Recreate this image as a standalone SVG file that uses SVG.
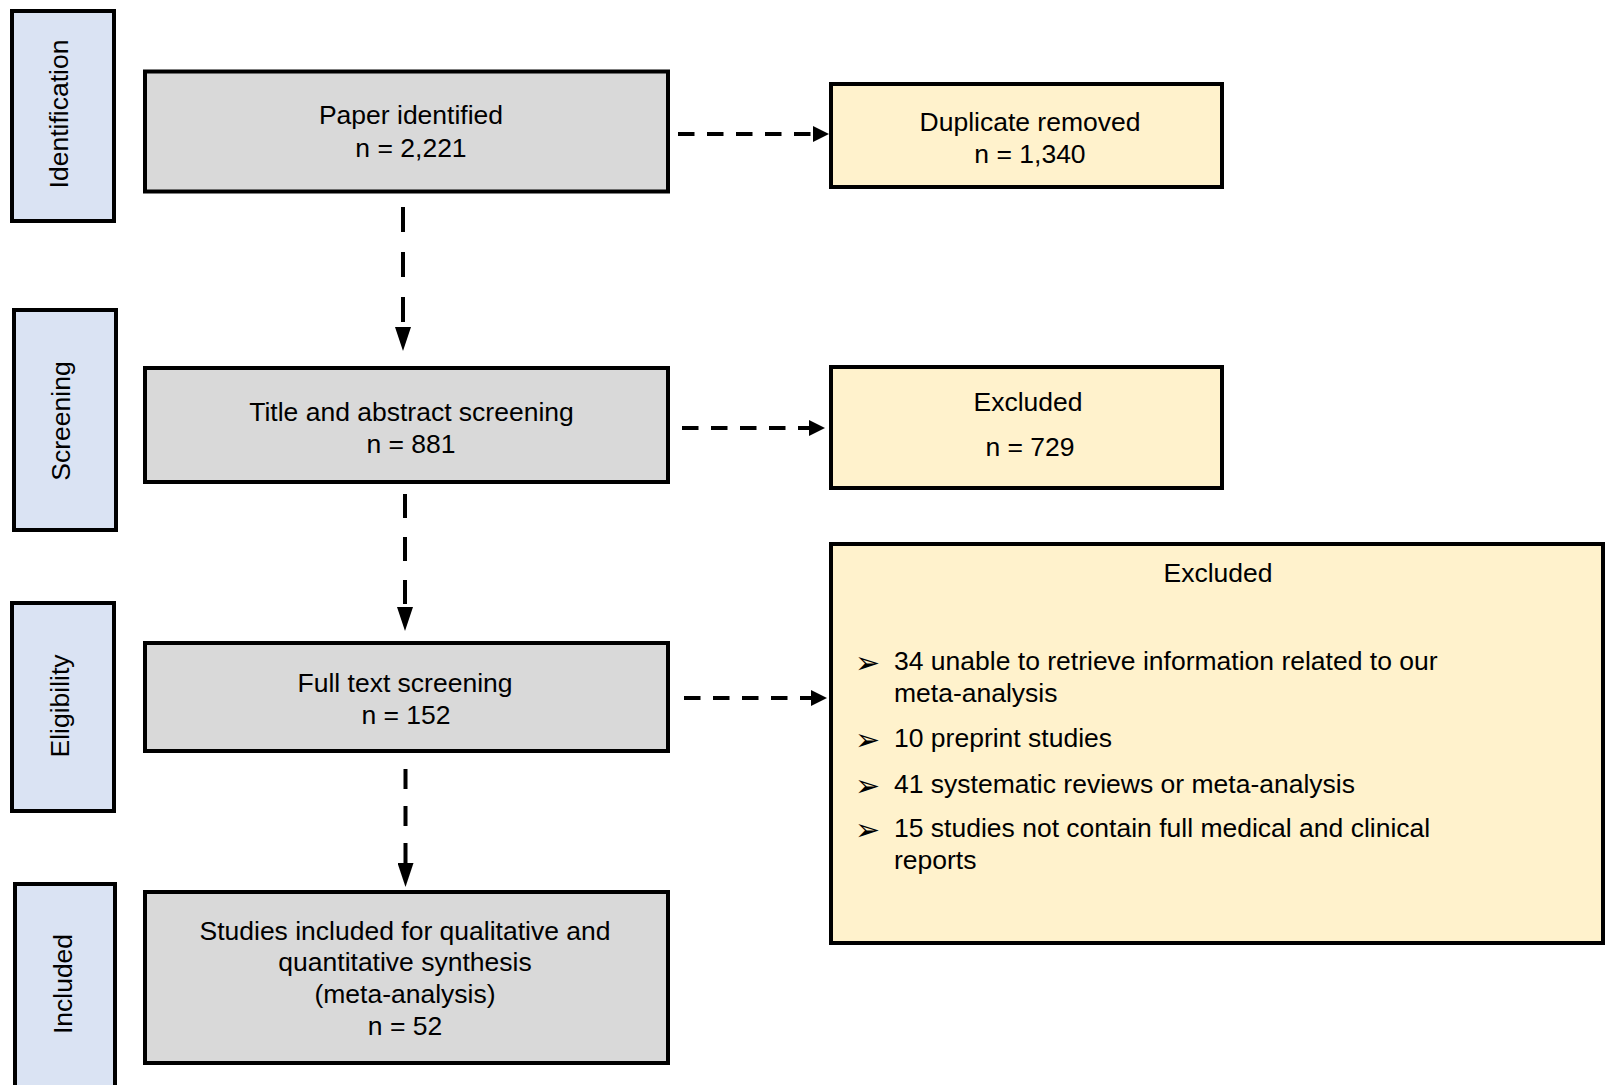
<svg xmlns="http://www.w3.org/2000/svg" width="1605" height="1085" viewBox="0 0 1605 1085">
<style>
.side{fill:#dae3f3;stroke:#000;stroke-width:4}
.main{fill:#d9d9d9;stroke:#000;stroke-width:4}
.excl{fill:#fff2cc;stroke:#000;stroke-width:4}
text{font-family:"Liberation Sans",Arial,sans-serif;font-size:26.5px;fill:#000}
.c{text-anchor:middle}
.bul{font-family:"DejaVu Sans",sans-serif;font-size:30px}
.v{fill:none;stroke:#000;stroke-width:4;marker-end:url(#ah)}
.h{fill:none;stroke:#000;stroke-width:4;stroke-dasharray:16.5 12.5;marker-end:url(#ahh)}
</style>
<defs>
<marker id="ah" markerUnits="userSpaceOnUse" markerWidth="24" markerHeight="16" viewBox="0 0 24 16" refX="0" refY="8" orient="auto"><path d="M0,0 L24,8 L0,16 z" fill="#000"/></marker>
<marker id="ahh" markerUnits="userSpaceOnUse" markerWidth="16" markerHeight="16" viewBox="0 0 16 16" refX="0" refY="8" orient="auto"><path d="M0,0 L16,8 L0,16 z" fill="#000"/></marker>
</defs>
<rect width="1605" height="1085" fill="#fff"/>
<g id="side-identification"><rect class="side" x="12" y="11" width="102" height="210"/><text class="c" transform="translate(68,114) rotate(-90)">Identification</text></g>
<g id="side-screening"><rect class="side" x="14" y="310" width="102" height="220"/><text class="c" transform="translate(70,421) rotate(-90)">Screening</text></g>
<g id="side-eligibility"><rect class="side" x="12" y="603" width="102" height="208"/><text class="c" transform="translate(69,706) rotate(-90)">Eligibility</text></g>
<g id="side-included"><rect class="side" x="15" y="884" width="100" height="220"/><text class="c" transform="translate(72,984) rotate(-90)">Included</text></g>
<g id="paper-identified"><rect class="main" x="145" y="71.5" width="523" height="120"/><text class="c" x="411" y="124">Paper identified</text><text class="c" x="411" y="157">n = 2,221</text></g>
<g id="title-abstract"><rect class="main" x="145" y="368" width="523" height="114"/><text class="c" x="411.5" y="421">Title and abstract screening</text><text class="c" x="411" y="453">n = 881</text></g>
<g id="full-text"><rect class="main" x="145" y="643" width="523" height="108"/><text class="c" x="405" y="692">Full text screening</text><text class="c" x="406" y="724">n = 152</text></g>
<g id="studies-included"><rect class="main" x="145" y="892" width="523" height="171"/><text class="c" x="405" y="940">Studies included for qualitative and</text><text class="c" x="405" y="971">quantitative synthesis</text><text class="c" x="405" y="1003">(meta-analysis)</text><text class="c" x="405" y="1035">n = 52</text></g>
<g id="duplicate-removed"><rect class="excl" x="831" y="84" width="391" height="103"/><text class="c" x="1030" y="131">Duplicate removed</text><text class="c" x="1030" y="163">n = 1,340</text></g>
<g id="excluded-729"><rect class="excl" x="831" y="367" width="391" height="121"/><text class="c" x="1028" y="411">Excluded</text><text class="c" x="1030" y="456">n = 729</text></g>
<g id="excluded-fulltext"><rect class="excl" x="831" y="544" width="772" height="399"/><text class="c" x="1218" y="582">Excluded</text>
<text class="bul" x="855" y="673">➢</text><text x="894" y="670">34 unable to retrieve information related to our</text><text x="894" y="702">meta-analysis</text>
<text class="bul" x="855" y="750">➢</text><text x="894" y="747">10 preprint studies</text>
<text class="bul" x="855" y="796">➢</text><text x="894" y="793">41 systematic reviews or meta-analysis</text>
<text class="bul" x="855" y="840">➢</text><text x="894" y="837">15 studies not contain full medical and clinical</text><text x="894" y="869">reports</text></g>
<g id="connectors">
<line class="v" x1="403" y1="207" x2="403" y2="327" stroke-dasharray="25 20"/>
<line class="v" x1="405" y1="494" x2="405" y2="607" stroke-dasharray="24 19"/>
<line class="v" x1="405.5" y1="769" x2="405.5" y2="863" stroke-dasharray="20 17"/>
<line class="h" x1="678" y1="134" x2="813" y2="134"/>
<line class="h" x1="682" y1="428" x2="809" y2="428"/>
<line class="h" x1="684" y1="698" x2="811" y2="698"/>
</g>
</svg>
